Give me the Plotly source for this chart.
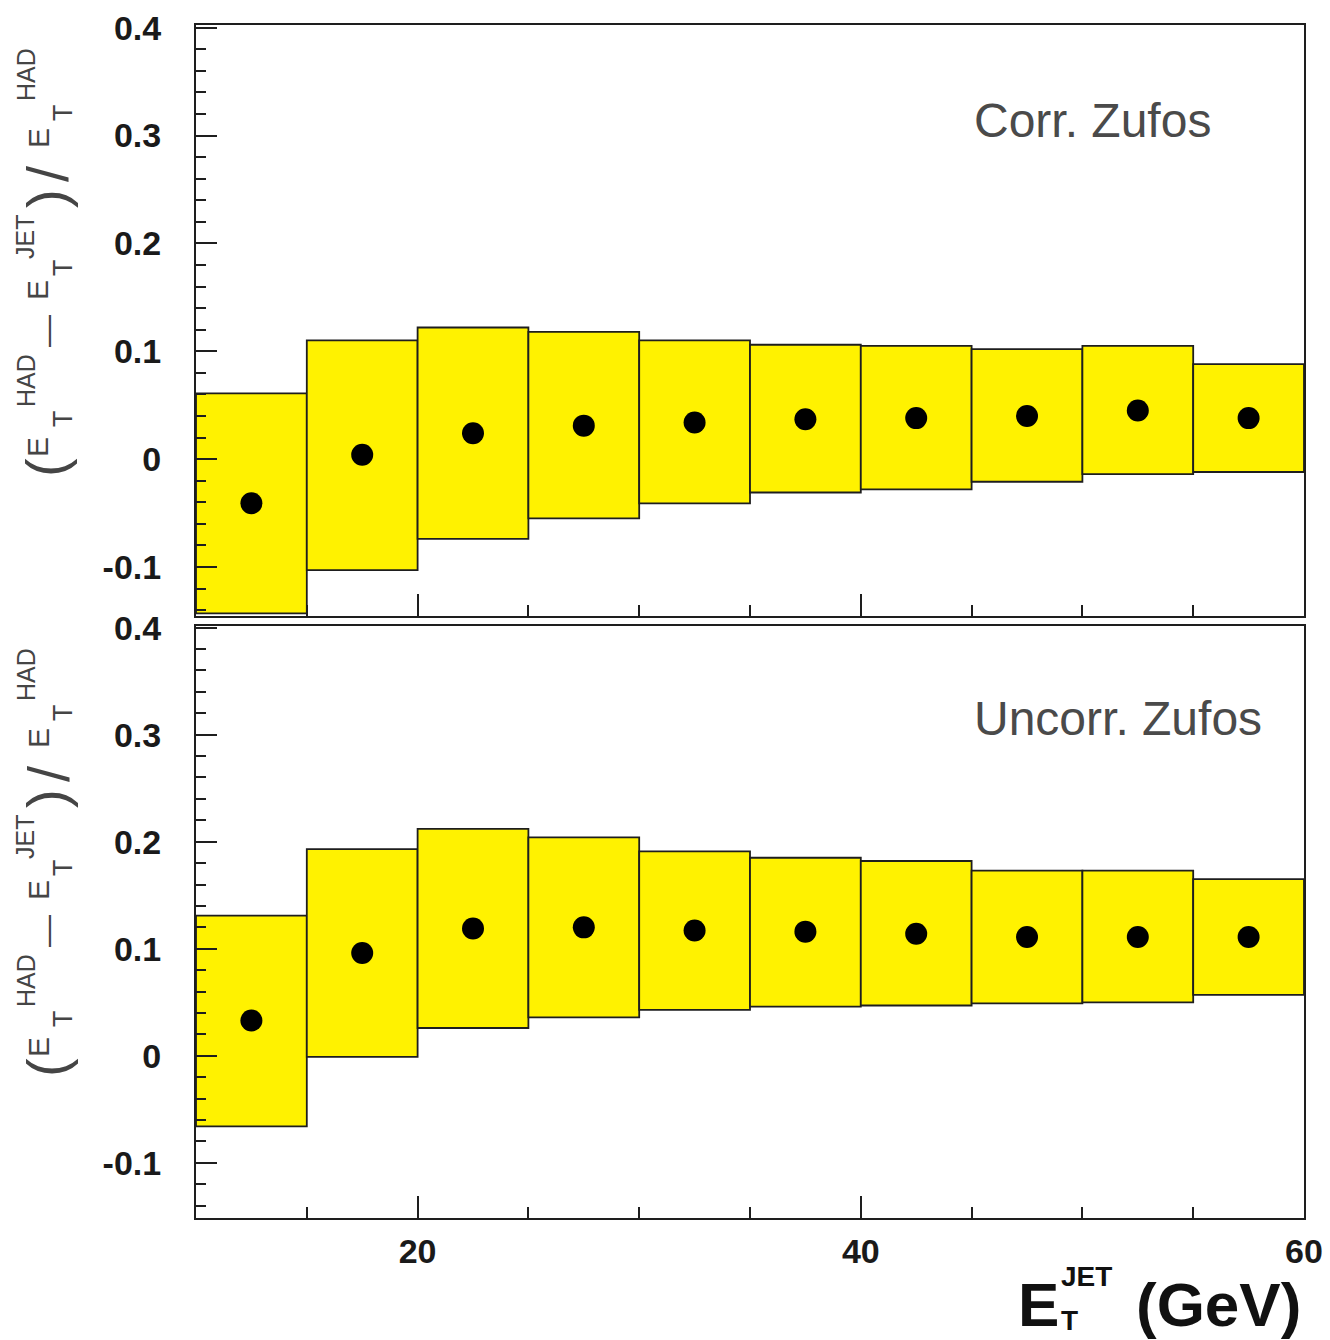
import plotly.graph_objects as go

# Jet E_T bins (GeV)
bin_edges = [10, 15, 20, 25, 30, 35, 40, 45, 50, 55, 60]
bin_centers = [12.5, 17.5, 22.5, 27.5, 32.5, 37.5, 42.5, 47.5, 52.5, 57.5]

# Corrected ZUFOs: mean relative difference and band limits
corr_mean = [-0.041, 0.004, 0.024, 0.031, 0.034, 0.037, 0.038, 0.040, 0.045, 0.038]
corr_lo = [-0.143, -0.103, -0.074, -0.055, -0.041, -0.031, -0.028, -0.021, -0.014, -0.012]
corr_hi = [0.061, 0.110, 0.122, 0.118, 0.110, 0.106, 0.105, 0.102, 0.105, 0.088]

# Uncorrected ZUFOs
unc_mean = [0.033, 0.096, 0.119, 0.120, 0.117, 0.116, 0.114, 0.111, 0.111, 0.111]
unc_lo = [-0.066, -0.001, 0.026, 0.036, 0.043, 0.046, 0.047, 0.049, 0.050, 0.057]
unc_hi = [0.131, 0.193, 0.212, 0.204, 0.191, 0.185, 0.182, 0.173, 0.173, 0.165]

# Axis tick labels
y_tickvals = [-0.1, 0.0, 0.1, 0.2, 0.3, 0.4]
y_ticktext = ["-0.1", "0", "0.1", "0.2", "0.3", "0.4"]
x_tickvals = [20, 40, 60]
x_ticktext = ["20", "40", "60"]

W, H = 1330, 1340
YELLOW = "#FFF200"
INK = "#1e1e1e"


def px_x(p):
    return p / W


def px_y(p):
    return 1 - p / H


fig = go.Figure()

panels = [
    (corr_mean, corr_lo, corr_hi, "x", "y"),
    (unc_mean, unc_lo, unc_hi, "x2", "y2"),
]
for mean, lo, hi, xa, ya in panels:
    widths = [bin_edges[i + 1] - bin_edges[i] for i in range(len(bin_centers))]
    fig.add_trace(go.Bar(
        x=bin_centers,
        y=[h - l for h, l in zip(hi, lo)],
        base=lo,
        width=widths,
        marker=dict(color=YELLOW, line=dict(color=INK, width=1.8)),
        xaxis=xa, yaxis=ya, hoverinfo="skip",
    ))
    fig.add_trace(go.Scatter(
        x=bin_centers, y=mean, mode="markers",
        marker=dict(color="black", size=22),
        xaxis=xa, yaxis=ya, hoverinfo="skip",
    ))

tick_font = dict(family="Liberation Sans, Arial, sans-serif", size=34,
                 color="#1a1a1a", weight="bold")

x_common = dict(
    range=[10, 60], showgrid=False, zeroline=False, automargin=False,
    showline=True, linecolor=INK, linewidth=2, mirror=True,
    ticks="inside", ticklen=22, tickwidth=2, tickcolor=INK,
    tickmode="array", tickvals=x_tickvals, ticktext=x_ticktext,
    minor=dict(ticks="inside", ticklen=11, tickwidth=2, tickcolor=INK,
               tickmode="linear", tick0=0, dtick=5, showgrid=False),
    tickfont=tick_font,
)
y_common = dict(
    showgrid=False, zeroline=False, automargin=False,
    showline=True, linecolor=INK, linewidth=2, mirror=True,
    ticks="inside", ticklen=21, tickwidth=2, tickcolor=INK,
    tickmode="array", tickvals=y_tickvals, ticktext=y_ticktext,
    minor=dict(ticks="inside", ticklen=10, tickwidth=2, tickcolor=INK,
               tickmode="linear", tick0=0, dtick=0.02, showgrid=False),
    tickfont=tick_font, ticklabelstandoff=26,
)

xdom = [px_x(196), px_x(1304)]
fig.update_layout(
    width=W, height=H,
    margin=dict(l=0, r=0, t=0, b=0),
    paper_bgcolor="white", plot_bgcolor="white",
    showlegend=False, barmode="overlay",
    xaxis=dict(domain=xdom, anchor="y", showticklabels=False, **x_common),
    yaxis=dict(domain=[px_y(616), px_y(25)], anchor="x",
               range=[-0.1455, 0.4025], **y_common),
    xaxis2=dict(domain=xdom, anchor="y2", showticklabels=True,
                ticklabelstandoff=2, **x_common),
    yaxis2=dict(domain=[px_y(1218), px_y(626)], anchor="x2",
                range=[-0.1515, 0.4015], **y_common),
)

# Panel labels
label_font = dict(family="Liberation Sans, Arial, sans-serif", size=48, color="#4a4a4a")
fig.add_annotation(text="Corr. Zufos", xref="paper", yref="paper",
                   x=px_x(972), y=px_y(120), xanchor="left", yanchor="middle",
                   showarrow=False, font=label_font)
fig.add_annotation(text="Uncorr. Zufos", xref="paper", yref="paper",
                   x=px_x(972), y=px_y(718), xanchor="left", yanchor="middle",
                   showarrow=False, font=label_font)

# Vertical axis title, set piece by piece so the sub/superscripts sit
# where they should: (text, centre x px, centre y px, font size)
ytitle_pieces = [
    ("(", 46, 468, 56),
    ("E", 38, 447, 30),
    ("T", 63, 419, 27),
    ("HAD", 26, 381, 25),
    ("\u2014", 47, 331, 32),
    ("E", 38, 290, 30),
    ("T", 63, 268, 27),
    ("JET", 25, 237, 25),
    (")", 46, 199, 56),
    ("/", 48, 174, 58),
    ("E", 38, 138, 30),
    ("T", 63, 113, 27),
    ("HAD", 26, 75, 25),
]
for dy in (0, 600):
    for txt, cx, cy, sz in ytitle_pieces:
        fig.add_annotation(text=txt, xref="paper", yref="paper",
                           x=px_x(cx), y=px_y(cy + dy),
                           xanchor="center", yanchor="middle",
                           textangle=-90, showarrow=False, borderpad=0,
                           font=dict(family="Liberation Sans, Arial, sans-serif",
                                     size=sz, color="#454545"))

# Horizontal axis title, with stacked sub/superscript
xt_font = dict(family="Liberation Sans, Arial, sans-serif", color="#111", weight="bold")
fig.add_annotation(text="E", xref="paper", yref="paper",
                   x=px_x(1038), y=px_y(1304), xanchor="center", yanchor="middle",
                   showarrow=False, borderpad=0, font=dict(size=62, **xt_font))
fig.add_annotation(text="JET", xref="paper", yref="paper",
                   x=px_x(1060), y=px_y(1276), xanchor="left", yanchor="middle",
                   showarrow=False, borderpad=0, font=dict(size=28, **xt_font))
fig.add_annotation(text="T", xref="paper", yref="paper",
                   x=px_x(1060), y=px_y(1320), xanchor="left", yanchor="middle",
                   showarrow=False, borderpad=0, font=dict(size=28, **xt_font))
fig.add_annotation(text="(GeV)", xref="paper", yref="paper",
                   x=px_x(1302), y=px_y(1304), xanchor="right", yanchor="middle",
                   showarrow=False, borderpad=0, font=dict(size=62, **xt_font))

fig.write_html("out.html")
